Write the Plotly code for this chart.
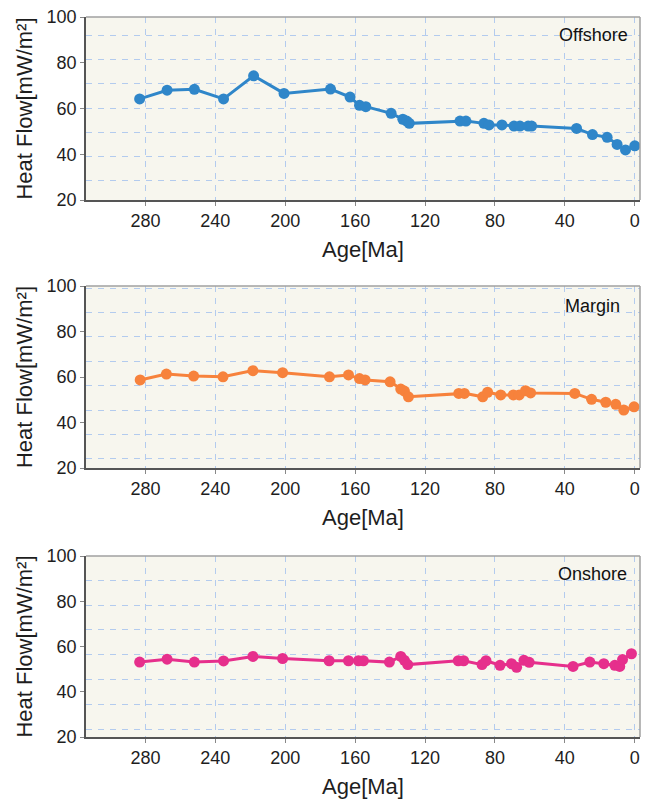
import plotly.graph_objects as go

# Heat-flow history (mW/m²) against age (Ma) for three settings
offshore_age = [283.3, 267.6, 252.0, 235.3, 218.1, 200.7, 174.1, 162.9, 157.5, 153.9,
                139.4, 132.7, 130.5, 129.0, 100.0, 96.6, 86.3, 83.4, 76.0, 69.1,
                65.7, 61.0, 59.0, 33.3, 24.2, 15.8, 10.1, 5.3, 0.0]
offshore_hf = [64.2, 68.0, 68.4, 64.2, 74.3, 66.6, 68.5, 65.0, 61.4, 60.8,
               57.9, 55.3, 54.5, 53.5, 54.5, 54.5, 53.5, 52.8, 52.8, 52.3,
               52.3, 52.3, 52.3, 51.3, 48.6, 47.4, 44.3, 41.9, 43.7]

margin_age = [283.0, 268.0, 252.4, 235.6, 218.5, 201.5, 174.7, 163.8, 157.5, 154.3,
              140.0, 133.9, 131.8, 129.5, 100.7, 97.5, 87.0, 84.2, 76.7, 69.5,
              66.1, 62.5, 59.6, 34.3, 24.7, 16.6, 10.9, 6.3, 0.4]
margin_hf = [58.7, 61.3, 60.4, 60.1, 62.8, 61.9, 60.1, 60.9, 59.3, 58.7,
             57.9, 54.7, 53.8, 51.3, 52.8, 52.8, 51.3, 53.3, 52.1, 52.1,
             52.1, 54.0, 53.0, 52.8, 50.2, 48.9, 48.0, 45.5, 46.9]

onshore_age = [283.3, 267.6, 252.0, 235.3, 218.5, 201.5, 174.9, 163.8, 158.1, 155.3,
               140.4, 133.9, 131.8, 129.9, 101.0, 97.9, 87.4, 85.1, 77.1, 70.5,
               67.6, 63.4, 60.4, 35.3, 25.7, 17.7, 11.4, 8.6, 7.0, 1.9]
onshore_hf = [53.1, 54.4, 53.1, 53.6, 55.6, 54.7, 53.7, 53.7, 53.7, 53.7,
              53.1, 55.6, 53.9, 52.0, 53.7, 53.7, 52.0, 53.7, 51.7, 52.4,
              50.8, 53.9, 53.0, 51.2, 53.1, 52.4, 51.7, 51.2, 54.2, 56.8]

panel_names = ["Offshore", "Margin", "Onshore"]
panel_colors = ["#2f86c9", "#f7823c", "#e62f8c"]
x_ticks = [280, 240, 200, 160, 120, 80, 40, 0]
y_ticks = [20, 40, 60, 80, 100]

W, H = 646, 802
# plot-area boxes in pixels: (left, right, top, bottom)
boxes = [(86, 640, 17, 200), (86, 640, 286, 468), (86, 640, 556, 737)]
# dashed horizontal grid (start, step) in data units for each panel
hgrid = [(28.35, 10.6), (24.0, 10.73), (23.3, 11.0)]
label_pos = [(0.982, 0.902), (0.967, 0.89), (0.980, 0.899)]

series = [(offshore_age, offshore_hf), (margin_age, margin_hf), (onshore_age, onshore_hf)]

fig = go.Figure()
grid_col = "#b3cbee"
text_col = "#1e1e1e"
tick_font = dict(family="Liberation Sans, Arial", size=18, color=text_col)
xtitle_font = dict(family="Liberation Sans, Arial", size=22, color=text_col)
ytitle_font = dict(family="Liberation Sans, Arial", size=22, color=text_col)

for i, ((ages, hf), col, name, box, hg, lp) in enumerate(
        zip(series, panel_colors, panel_names, boxes, hgrid, label_pos)):
    n = "" if i == 0 else str(i + 1)
    l, r, t, b = box
    xd = [l / W, r / W]
    yd = [1 - b / H, 1 - t / H]
    fig.add_trace(go.Scatter(
        x=ages, y=hf, mode="lines+markers", name=name,
        xaxis="x" + n, yaxis="y" + n,
        line=dict(color=col, width=3),
        marker=dict(color=col, size=11),
        showlegend=False,
    ))
    fig.layout["xaxis" + n] = dict(
        domain=xd, anchor="y" + n, range=[314, -3], automargin=False,
        tickmode="array", tickvals=x_ticks, ticktext=[str(v) for v in x_ticks],
        ticks="outside", ticklen=4, tickcolor="#888",
        showline=True, linecolor="#555", linewidth=1.5,
        showgrid=True, gridcolor=grid_col, griddash="6px,6px", gridwidth=1,
        zeroline=False, tickfont=tick_font,
        title=dict(text="Age[Ma]", font=xtitle_font, standoff=11),
    )
    fig.layout["yaxis" + n] = dict(
        domain=yd, anchor="x" + n, range=[20, 100], automargin=False,
        tickmode="array", tickvals=y_ticks,
        ticks="outside", ticklen=4, tickcolor="#888",
        showline=True, linecolor="#555", linewidth=1.5,
        showgrid=False, zeroline=False, tickfont=tick_font,
        minor=dict(tick0=hg[0], dtick=hg[1], showgrid=True,
                   gridcolor=grid_col, griddash="6px,6px", gridwidth=1),
        title=dict(text="Heat Flow[mW/m²]", font=ytitle_font, standoff=8),
    )
    # lighter top and right frame edges
    fig.add_shape(type="line", xref="x" + n + " domain", yref="y" + n + " domain",
                  x0=0, x1=1, y0=1, y1=1, line=dict(color="#a0a0a0", width=1.5))
    fig.add_shape(type="line", xref="x" + n + " domain", yref="y" + n + " domain",
                  x0=1, x1=1, y0=0, y1=1, line=dict(color="#a0a0a0", width=1.5))
    fig.add_annotation(text=name, xref="x" + n + " domain", yref="y" + n + " domain",
                       x=lp[0], y=lp[1], xanchor="right", yanchor="middle",
                       showarrow=False,
                       font=dict(family="Liberation Sans, Arial", size=18, color="#111"))

fig.update_layout(
    width=W, height=H,
    margin=dict(l=0, r=0, t=0, b=0),
    paper_bgcolor="white",
    plot_bgcolor="#f7f6ee",
)

fig.write_html("out.html")
